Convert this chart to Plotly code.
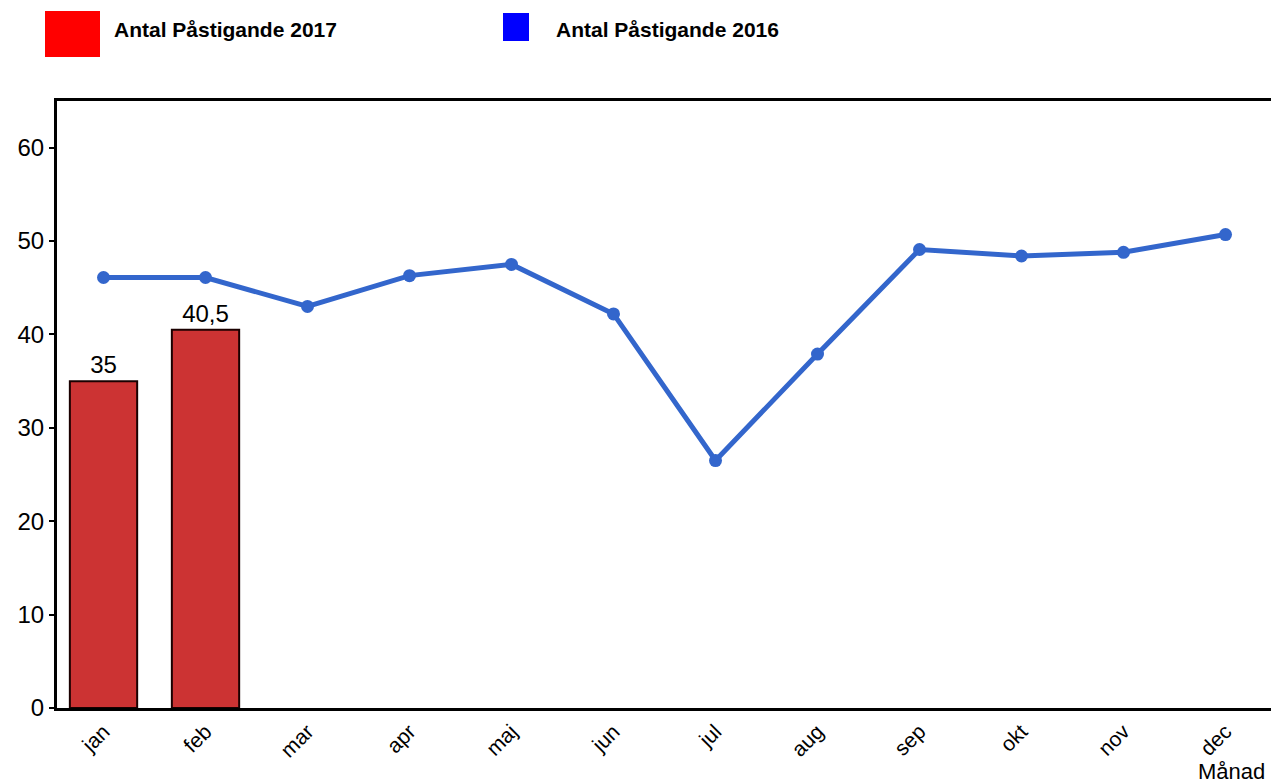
import plotly.graph_objects as go

months = ["jan", "feb", "mar", "apr", "maj", "jun", "jul", "aug", "sep", "okt", "nov", "dec"]
values_2017 = [35, 40.5]
values_2016 = [46.1, 46.1, 43.0, 46.3, 47.5, 42.2, 26.5, 37.9, 49.1, 48.4, 48.8, 50.7]
labels_2017 = ["35", "40,5"]
y_ticks = [0, 10, 20, 30, 40, 50, 60]
series_names = ["Antal Påstigande 2017", "Antal Påstigande 2016"]

FONT = "Liberation Sans, Arial, sans-serif"

FIG_W, FIG_H = 1271, 784
PL, PT, PB, PR = 57, 101, 708, 1271  # plot area edges in page pixels
PW, PH = PR - PL, PB - PT
CAT_PX = 102.0  # pixels per category
X0 = -0.456


def px(xp):
    return (xp - PL) / PW


def py(yp):
    return (PB - yp) / PH


fig = go.Figure()
fig.add_trace(go.Bar(
    x=months[:len(values_2017)], y=values_2017,
    name=series_names[0],
    text=labels_2017, textposition="outside",
    textfont=dict(size=24, color="#000000", family=FONT),
    marker=dict(color="#CC3333", line=dict(color="#1a0000", width=2)),
    width=0.66, cliponaxis=False,
))
fig.add_trace(go.Scatter(
    x=months, y=values_2016, name=series_names[1],
    mode="lines+markers",
    line=dict(color="#3366CC", width=5),
    marker=dict(color="#3366CC", size=13),
))

fig.update_layout(
    width=FIG_W, height=FIG_H,
    margin=dict(l=PL, r=FIG_W - PR, t=PT, b=FIG_H - PB),
    paper_bgcolor="white", plot_bgcolor="white",
    showlegend=False,
    font=dict(family=FONT, color="#000000"),
    xaxis=dict(
        categoryorder="array", categoryarray=months,
        range=[X0, X0 + PW / CAT_PX],
        showline=True, linecolor="#000000", linewidth=3, mirror=True,
        showgrid=False, ticks="", tickangle=-45,
        tickfont=dict(size=21, family=FONT),
    ),
    yaxis=dict(
        range=[0, 65], tickvals=y_ticks,
        showline=True, linecolor="#000000", linewidth=3,
        showgrid=False, zeroline=False,
        ticks="outside", ticklen=5, tickwidth=2, tickcolor="#000000",
        tickfont=dict(size=24, family=FONT),
    ),
    shapes=[
        dict(type="rect", xref="paper", yref="paper",
             x0=px(45), x1=px(100), y0=py(57), y1=py(11),
             fillcolor="#FF0000", line=dict(width=0)),
        dict(type="rect", xref="paper", yref="paper",
             x0=px(503), x1=px(529), y0=py(41), y1=py(13),
             fillcolor="#0000FF", line=dict(width=0)),
    ],
    annotations=[
        dict(text="<b>" + series_names[0] + "</b>", xref="paper", yref="paper",
             x=px(112), y=py(29), xanchor="left", yanchor="middle",
             showarrow=False, font=dict(size=21, family=FONT)),
        dict(text="<b>" + series_names[1] + "</b>", xref="paper", yref="paper",
             x=px(554), y=py(29), xanchor="left", yanchor="middle",
             showarrow=False, font=dict(size=21, family=FONT)),
        dict(text="Månad", xref="paper", yref="paper",
             x=px(1267), y=py(771), xanchor="right", yanchor="middle",
             showarrow=False, font=dict(size=22, family=FONT)),
    ],
)

fig.write_html(
    "out.html",
    config={"displayModeBar": False},
    post_script="document.body.style.margin='0';document.body.style.overflow='hidden';",
)
